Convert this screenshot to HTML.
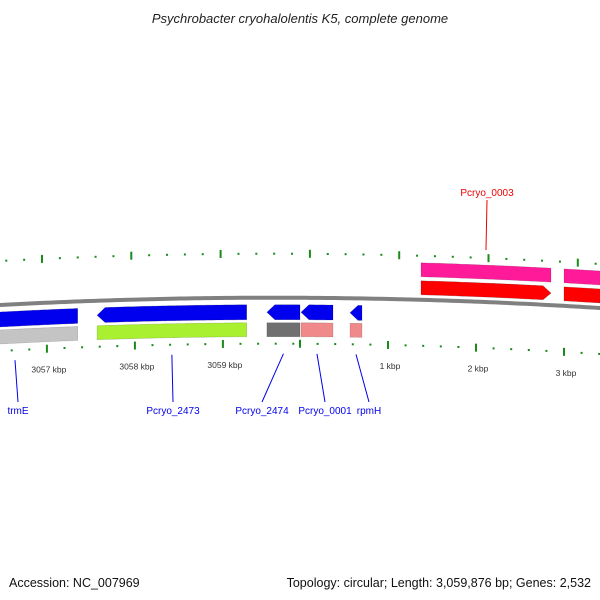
<!DOCTYPE html>
<html><head><meta charset="utf-8"><style>
body{margin:0;background:#fff;}
svg{display:block;font-family:"Liberation Sans",sans-serif;}
</style></head><body>
<svg id="map" width="600" height="600" viewBox="0 0 600 600">
<text x="300" y="23" text-anchor="middle" font-size="13" font-style="italic" fill="#222">Psychrobacter cryohalolentis K5, complete genome</text>
<g id="ticks"></g>
<path id="backbone" fill="none" stroke="#808080" stroke-width="4"/>
<g id="feats"></g>
<g id="labels"></g>
<text x="9" y="587" font-size="12.5" fill="#111">Accession: NC_007969</text>
<text x="591" y="587" text-anchor="end" font-size="12.5" fill="#111">Topology: circular; Length: 3,059,876 bp; Genes: 2,532</text>
</svg>
<script>
// genome data (kbp positions)
const genomeLen = 3059.876;
const featStart = [3056.4, 3057.57, 3059.50, 0.011, 0.568, 1.375, 3.0];
const featEnd   = [3057.35, 3059.27, 3059.876, 0.375, 0.705, 2.852, 3.8];
const featStrand = [-1, -1, -1, -1, -1, 1, 1];
const featColor = ['#0000ee','#0000ee','#0000ee','#0000ee','#0000ee','#ff0000','#ff0000'];
const catColor  = ['#c4c4c4','#a8f030','#707070','#f08a8a','#f08a8a','#ff1a9a','#ff1a9a'];
const geneNames = ['trmE','Pcryo_2473','Pcryo_2474','Pcryo_0001','rpmH','Pcryo_0003'];
const geneIdx = [0,1,2,3,4,5];
const bottomTickLabels = ['3057 kbp','3058 kbp','3059 kbp','1 kbp','2 kbp','3 kbp'];
const bottomTickPos = [3057, 3058, 3059, 1, 2, 3];

const NS='http://www.w3.org/2000/svg';
const PX=88;
function xOf(k){ return k > genomeLen/2 ? 300-(genomeLen-k)*PX : 300+k*PX; }
function arcY(x){ return 305 + 9.71e-5*x*x - 0.05325*x; }
function mk(tag,attrs,parent){const e=document.createElementNS(NS,tag);for(const k in attrs)e.setAttribute(k,attrs[k]);parent.appendChild(e);return e;}

// backbone
let d='';for(let x=-5;x<=605;x+=5){d+=(x===-5?'M':'L')+x+','+arcY(x).toFixed(2);}
document.getElementById('backbone').setAttribute('d',d);

function band(x1,x2,o1,o2,arrow){
  // arrow: -1 left, 1 right, 0 none
  const pts=[];const ah=8;
  let a=x1,b=x2;
  if(arrow===-1)a=x1+ah; if(arrow===1)b=x2-ah;
  for(let x=a;x<=b;x+=3)pts.push([x,arcY(x)+o1]);
  pts.push([b,arcY(b)+o1]);
  if(arrow===1)pts.push([x2,arcY(x2)+(o1+o2)/2]);
  const low=[];for(let x=a;x<=b;x+=3)low.push([x,arcY(x)+o2]);low.push([b,arcY(b)+o2]);
  low.reverse();pts.push(...low);
  if(arrow===-1)pts.push([x1,arcY(x1)+(o1+o2)/2]);
  return 'M'+pts.map(p=>p[0].toFixed(1)+','+p[1].toFixed(1)).join('L')+'Z';
}
const feats=document.getElementById('feats');
for(let i=0;i<featStart.length;i++){
  const x1=xOf(featStart[i]),x2=xOf(featEnd[i]);
  const s=featStrand[i];
  const showArrow = x1>0 && x2<600 ? s : 0;
  const arr = s===1 ? (x2<590?1:0) : (x1>5?-1:0);
  let o1,o2,c1,c2;
  if(s===1){o1=-19;o2=-5;c1=-37;c2=-23;}else{o1=7;o2=22;c1=25;c2=39;}
  const g=mk('g',{},feats);
  
  
  mk('path',{d:band(x1,x2,o1,o2,arr),fill:featColor[i],stroke:'rgba(0,0,0,0.25)','stroke-width':0.6},g);
  mk('path',{d:band(x1,x2,c1,c2,0),fill:catColor[i],stroke:'rgba(0,0,0,0.2)','stroke-width':0.6},g);
}

// ticks
const tg=document.getElementById('ticks');
for(let i=-3;i<40;i++){
  // top ticks
  const xt=42+i*17.86; if(xt>=0&&xt<=600){
    const maj=((i%5)+5)%5===0; const y=arcY(xt)-44;
    const t=mk('line',{x1:xt,x2:xt,y1:y-(maj?4:1),y2:y+(maj?4:1),stroke:'#1a8a1a','stroke-width':2},tg);
    
    
  }
}
for(let k=3056.2;k<=genomeLen+0.01;k+=0.2){
  const x=xOf(k); if(x<0)continue;
  const maj=Math.abs(k-Math.round(k))<0.01; const y=arcY(x)+46;
  const t=mk('line',{x1:x,x2:x,y1:y-(maj?4:1),y2:y+(maj?4:1),stroke:'#1a8a1a','stroke-width':2},tg);
  
  
}
for(let k=0;k<=3.6;k+=0.2){
  const x=xOf(k); if(x<300||x>600)continue;
  const maj=Math.abs(k-Math.round(k))<0.01; const y=arcY(x)+46;
  const t=mk('line',{x1:x,x2:x,y1:y-(maj?4:1),y2:y+(maj?4:1),stroke:'#1a8a1a','stroke-width':2},tg);
  
  
}
bottomTickPos.forEach((k,i)=>{
  const x=xOf(k);
  const t=mk('text',{x:x+2,y:arcY(x)+70,'text-anchor':'middle','font-size':8.5,fill:'#333'},tg);
  
  
  t.textContent=bottomTickLabels[i];
});

// gene labels
const lg=document.getElementById('labels');
const labelX=[18,173,262,325,369,487];
geneIdx.forEach((fi,j)=>{
  const x1=Math.max(xOf(featStart[fi]),0),x2=Math.min(xOf(featEnd[fi]),600);
  const s=featStrand[fi];
  const col = s===1?'#ee0000':'#0000ee';
  let ax=(x1+x2)/2; if(fi===0)ax=15;
  const lx=labelX[j];
  let line,txt;
  if(s===1){
    line=mk('line',{x1:ax,y1:arcY(ax)-52,x2:lx,y2:200,stroke:col,'stroke-width':1},lg);
    txt=mk('text',{x:lx,y:196,'text-anchor':'middle','font-size':10,fill:col},lg);
  }else{
    line=mk('line',{x1:ax,y1:arcY(ax)+56,x2:lx,y2:402,stroke:col,'stroke-width':1},lg);
    txt=mk('text',{x:lx,y:414,'text-anchor':'middle','font-size':10,fill:col},lg);
  }
  
  
  
  
  txt.textContent=geneNames[j];
});
</script>
</body></html>
